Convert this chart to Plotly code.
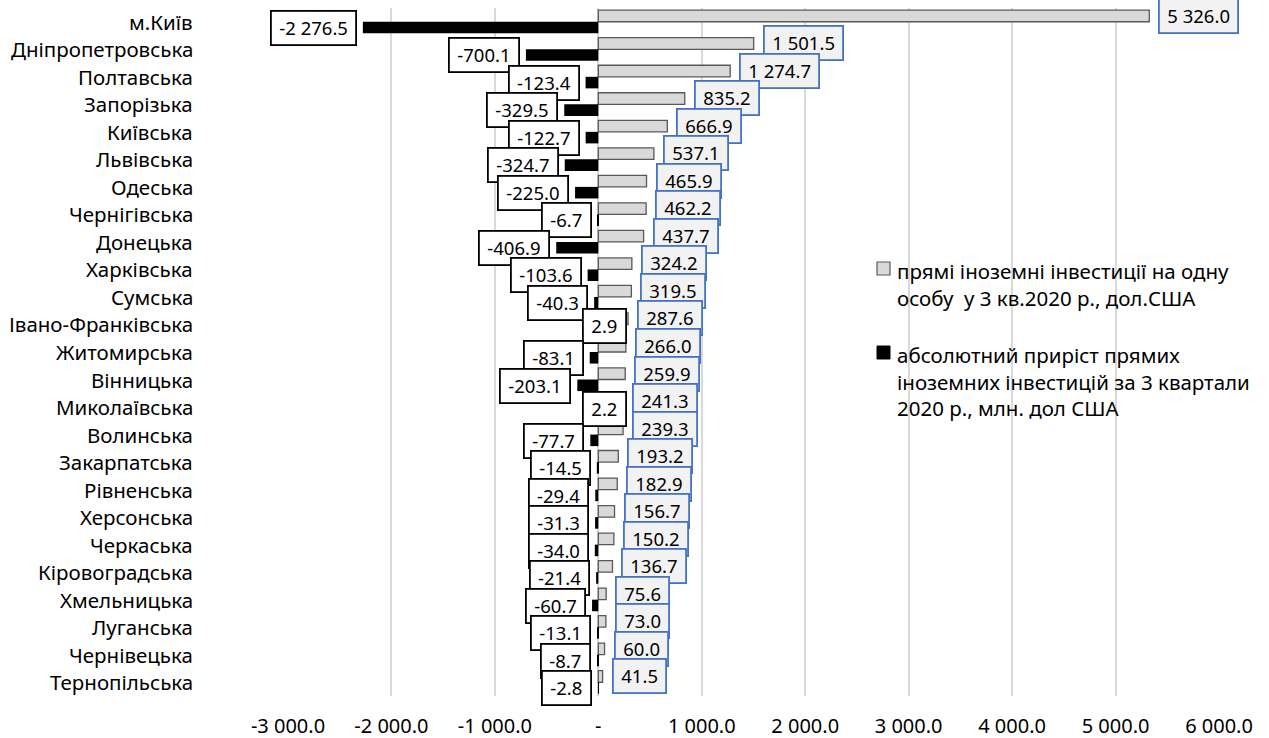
import plotly.graph_objects as go

regions = ["м.Київ", "Дніпропетровська", "Полтавська", "Запорізька", "Київська", "Львівська",
           "Одеська", "Чернігівська", "Донецька", "Харківська", "Сумська", "Івано-Франківська",
           "Житомирська", "Вінницька", "Миколаївська", "Волинська", "Закарпатська", "Рівненська",
           "Херсонська", "Черкаська", "Кіровоградська", "Хмельницька", "Луганська", "Чернівецька",
           "Тернопільська"]
fdi_per_person = [5326.0, 1501.5, 1274.7, 835.2, 666.9, 537.1, 465.9, 462.2, 437.7, 324.2, 319.5,
                  287.6, 266.0, 259.9, 241.3, 239.3, 193.2, 182.9, 156.7, 150.2, 136.7, 75.6, 73.0,
                  60.0, 41.5]
fdi_growth = [-2276.5, -700.1, -123.4, -329.5, -122.7, -324.7, -225.0, -6.7, -406.9, -103.6, -40.3,
              2.9, -83.1, -203.1, 2.2, -77.7, -14.5, -29.4, -31.3, -34.0, -21.4, -60.7, -13.1,
              -8.7, -2.8]
tick_vals = [-3000, -2000, -1000, 0, 1000, 2000, 3000, 4000, 5000, 6000]
tick_text = ["-3 000.0", "-2 000.0", "-1 000.0", "-", "1 000.0", "2 000.0", "3 000.0",
             "4 000.0", "5 000.0", "6 000.0"]
name_a = "прямі іноземні інвестиції на одну<br>особу  у 3 кв.2020 р., дол.США"
name_b = "абсолютний приріст прямих<br>іноземних інвестицій за 3 квартали<br>2020 р., млн. дол США"

FONT = "Noto Sans"
CAT_SIZE = 20.5
TICK_SIZE = 20
BOX_SIZE = 18.5
LEG_SIZE = 20.5

CHAR_EM = {"0": 0.572, "1": 0.572, "2": 0.572, "3": 0.572, "4": 0.572, "5": 0.572, "6": 0.572,
           "7": 0.572, "8": 0.572, "9": 0.572, " ": 0.26, ".": 0.268, "-": 0.322}


def fmt(v):
    return f"{v:,.1f}".replace(",", " ")


def box_w(s):
    return sum(CHAR_EM.get(c, 0.572) for c in s) * BOX_SIZE + 8


W, H = 1269, 738
L, R, T, B = 288, 50, 8, 42
pw, ph = W - L - R, H - T - B


def px(x):
    return (x - L) / pw


def py(y):
    return 1 - (y - T) / ph


fig = go.Figure()
fig.add_trace(go.Bar(y=regions, x=fdi_per_person, orientation="h", name=name_a,
                     marker=dict(color="#D9D9D9", line=dict(color="#595959", width=1.3))))
fig.add_trace(go.Bar(y=regions, x=fdi_growth, orientation="h", name=name_b,
                     marker=dict(color="#000000", line=dict(color="#000000", width=0))))

ann = []
# category labels
for r in regions:
    ann.append(dict(x=px(195), xref="paper", y=r, yref="y", text=r, showarrow=False,
                    xanchor="right", yanchor="middle",
                    font=dict(family=FONT, size=CAT_SIZE, color="#000000")))
# growth labels (black boxes)
for r, v in zip(regions, fdi_growth):
    s = fmt(v)
    common = dict(x=v, y=r, text=s, showarrow=False, width=box_w(s), align="center",
                  bgcolor="#FFFFFF", bordercolor="#000000", borderwidth=1.8, borderpad=3.5,
                  font=dict(family=FONT, size=BOX_SIZE, color="#000000"))
    if v < 0:
        ann.append(dict(common, xanchor="right", xshift=-6, yshift=-6))
    else:
        ann.append(dict(common, xanchor="center", xshift=6, yshift=-2))
# per-person labels (blue boxes)
for r, v in zip(regions, fdi_per_person):
    s = fmt(v)
    ann.append(dict(x=v, y=r, text=s, showarrow=False, xanchor="left", xshift=9, yshift=6,
                    width=box_w(s), align="center",
                    bgcolor="#F2F2F2", bordercolor="#4472C4", borderwidth=1.8, borderpad=3.5,
                    font=dict(family=FONT, size=BOX_SIZE, color="#000000")))
# legend text
ann.append(dict(x=px(895), y=py(255), xref="paper", yref="paper", text=name_a, showarrow=False,
                xanchor="left", yanchor="top", align="left",
                font=dict(family=FONT, size=LEG_SIZE, color="#000000")))
ann.append(dict(x=px(895), y=py(339), xref="paper", yref="paper", text=name_b, showarrow=False,
                xanchor="left", yanchor="top", align="left",
                font=dict(family=FONT, size=LEG_SIZE, color="#000000")))
fig.update_layout(annotations=ann)

# legend swatches
fig.add_shape(type="rect", xref="paper", yref="paper", x0=px(877), x1=px(890), y0=py(275),
              y1=py(262), fillcolor="#D9D9D9", line=dict(color="#595959", width=1.2))
fig.add_shape(type="rect", xref="paper", yref="paper", x0=px(877), x1=px(890), y0=py(359),
              y1=py(346), fillcolor="#000000", line=dict(color="#000000", width=1))

fig.update_layout(
    width=W, height=H,
    margin=dict(l=L, r=R, t=T, b=B, pad=0),
    paper_bgcolor="#FFFFFF", plot_bgcolor="#FFFFFF",
    barmode="group", bargap=0.16, bargroupgap=0.0,
    showlegend=False,
    font=dict(family=FONT, size=TICK_SIZE, color="#000000"),
    xaxis=dict(range=[-3000, 6000], tickvals=tick_vals, ticktext=tick_text, automargin=False,
               showgrid=True, gridcolor="#D9D9D9", gridwidth=1.5, zeroline=False,
               ticks="outside", ticklen=12, tickcolor="rgba(0,0,0,0)",
               tickfont=dict(family=FONT, size=TICK_SIZE, color="#000000"), fixedrange=True),
    yaxis=dict(range=[len(regions) - 0.5, -0.5], showticklabels=False, showgrid=False,
               zeroline=False, showline=False, fixedrange=True, automargin=False,
               categoryorder="array", categoryarray=regions),
)
fig.add_shape(type="line", xref="x", yref="paper", x0=0, x1=0, y0=0, y1=1,
              line=dict(color="#D9D9D9", width=1.5), layer="below")

fig.write_html("out.html", config={"displayModeBar": False},
               post_script="document.body.style.margin='0';document.body.style.overflow='hidden';")
